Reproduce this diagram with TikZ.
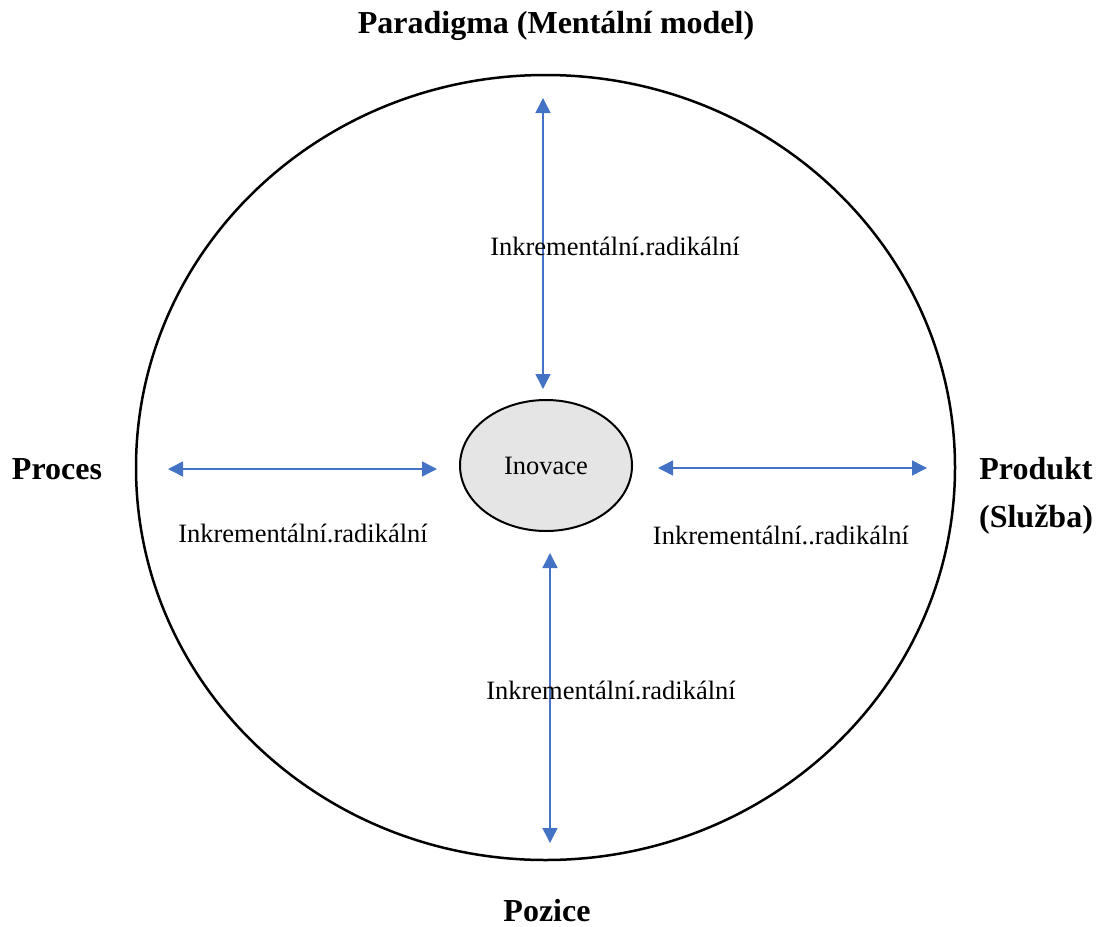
\documentclass[tikz,border=0pt]{standalone}
\usepackage{fontspec}
\setmainfont{Liberation Serif}
\usetikzlibrary{arrows.meta,shapes.geometric}
\definecolor{arrowblue}{HTML}{4472C4}
\tikzset{
  twoway/.style={draw=arrowblue, line width=1.5pt,
    {Triangle[length=15pt,width=15pt]}-{Triangle[length=15pt,width=15pt]}},
  side/.style={font=\fontsize{32}{48}\selectfont\bfseries, align=center},
  lab/.style={font=\fontsize{26.5}{32}\selectfont},
}
\begin{document}
\begin{tikzpicture}[x=1pt,y=-1pt]
        \useasboundingbox (0,0) rectangle (1097,926);

        % outer circle
        \draw[line width=2.5pt] (545.5,467.5) ellipse [x radius=409.5pt, y radius=392.5pt];

        \node[ellipse, draw, line width=2pt, fill=black!10, inner sep=0pt,
              minimum width=172pt, minimum height=131pt, lab] (inovace) at (546,465.5) {Inovace};

        \node[side] (paradigma) at (556,26) {Paradigma (Mentální model)};
        \node[side] (proces) at (57,469) {Proces};
        \node[side] (produkt) at (1036,496) {Produkt\\(Služba)};
        \node[side] (pozice) at (547,911) {Pozice};

        % arrow ends
        \coordinate (up-a) at (543,98);
        \coordinate (up-b) at (543,389);
        \coordinate (dn-a) at (550,553);
        \coordinate (dn-b) at (550,843);
        \coordinate (lt-a) at (168,469);
        \coordinate (lt-b) at (437,469);
        \coordinate (rt-a) at (658,468);
        \coordinate (rt-b) at (927,468);

        \draw[twoway] (up-a) -- (up-b);
        \draw[twoway] (dn-a) -- (dn-b);
        \draw[twoway] (lt-a) -- (lt-b);
        \draw[twoway] (rt-a) -- (rt-b);

        \node[lab] (up-lab) at (615,246) {Inkrementální.radikální};
        \node[lab] (lt-lab) at (303,533) {Inkrementální.radikální};
        \node[lab] (rt-lab) at (781,535) {Inkrementální..radikální};
        \node[lab] (dn-lab) at (611,690) {Inkrementální.radikální};

        \end{tikzpicture}
\end{document}
